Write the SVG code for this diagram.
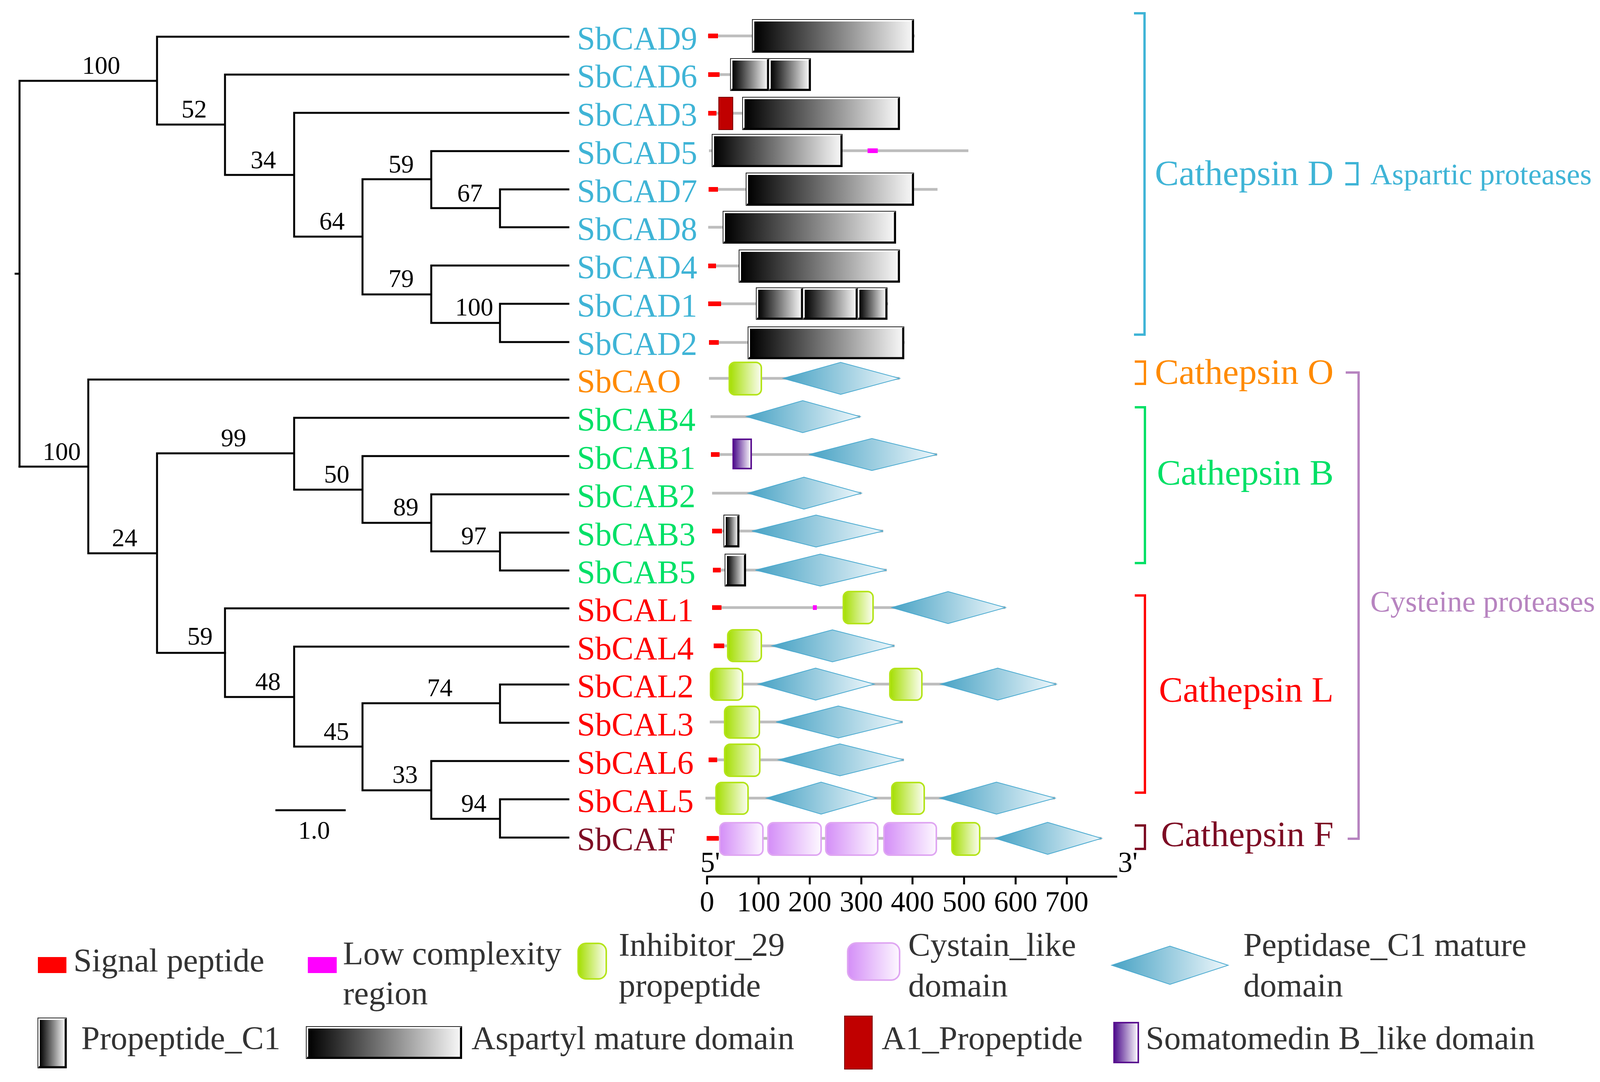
<svg xmlns="http://www.w3.org/2000/svg" width="4242" height="2771" viewBox="0 0 4242 2771">
<defs>
<linearGradient id="gBW" x1="0" y1="0" x2="1" y2="0"><stop offset="0" stop-color="#000"/><stop offset="1" stop-color="#f6f6f6"/></linearGradient>
<linearGradient id="gGr" x1="0" y1="0" x2="1" y2="0"><stop offset="0" stop-color="#a4de00"/><stop offset="1" stop-color="#fbfdf2"/></linearGradient>
<linearGradient id="gDi" x1="0" y1="0" x2="1" y2="0"><stop offset="0" stop-color="#47a2c4"/><stop offset="1" stop-color="#eef7fb"/></linearGradient>
<linearGradient id="gCy" x1="0" y1="0" x2="1" y2="0"><stop offset="0" stop-color="#d48ef7"/><stop offset="1" stop-color="#fdf8ff"/></linearGradient>
<linearGradient id="gPu" x1="0" y1="0" x2="1" y2="0"><stop offset="0" stop-color="#4a0a8a"/><stop offset="1" stop-color="#ffffff"/></linearGradient>
</defs>
<style>
text{font-family:"Liberation Serif","Times New Roman",serif}
.leaf{font-size:84px}
.bs{font-size:65px;fill:#000;text-anchor:middle}
.cd{fill:#3fb4d6}.co{fill:#ff8a00}.cb{fill:#00e066}.cl{fill:#ff0000}.cf{fill:#7d0c24}.cp{fill:#b784c0}
.grp{font-size:92px}
.sup{font-size:77px}
.br{fill:none;stroke-width:6}
.ln{stroke:#bdbdbd;stroke-width:7}
.sp{fill:#ff0000}
.lc{fill:#ff00ff}
.bo{fill:#fff;stroke:#222;stroke-width:2}
.bi{fill:url(#gBW)}
.bk{fill:none;stroke:#000;stroke-width:5}
.gr{fill:url(#gGr);stroke:#b4e41a;stroke-width:4}
.di{fill:url(#gDi);stroke:#4aaad0;stroke-width:2}
.cy{fill:url(#gCy);stroke:#dfa6f2;stroke-width:4}
.pu{fill:url(#gPu);stroke:#5a1090;stroke-width:4}
.a1{fill:#c00000;stroke:#7a0000;stroke-width:2}
.ax{font-size:74px;fill:#000}
.lg{font-size:85px;fill:#333}
</style>

<g id="connectors" fill="none" stroke="#000" stroke-width="5" stroke-linecap="square">
<path d="M40 701H50 M50 207V1195 M50 207H402 M402 94V319 M402 94H1455 M402 319H576 M576 191V448 M576 191H1455 M576 448H753 M753 289V606 M753 289H1455 M753 606H928 M928 459V754 M928 459H1104 M928 754H1104 M1104 387V533 M1104 387H1455 M1104 533H1280 M1280 485V582 M1280 485H1455 M1280 582H1455 M1104 680V827 M1104 680H1455 M1104 827H1280 M1280 778V876 M1280 778H1455 M1280 876H1455"/>
<path d="M50 1195H226 M226 972V1417 M226 972H1455 M226 1417H402 M402 1161V1672 M402 1161H753 M402 1672H576 M753 1070V1254 M753 1070H1455 M753 1254H928 M928 1168V1339 M928 1168H1455 M928 1339H1104 M1104 1266V1412 M1104 1266H1455 M1104 1412H1280 M1280 1364V1461 M1280 1364H1455 M1280 1461H1455"/>
<path d="M576 1558V1785 M576 1558H1455 M576 1785H753 M753 1656V1912 M753 1656H1455 M753 1912H928 M928 1801V2024 M928 1801H1280 M928 2024H1104 M1280 1753V1851 M1280 1753H1455 M1280 1851H1455 M1104 1949V2097 M1104 1949H1455 M1104 2097H1280 M1280 2047V2145 M1280 2047H1455 M1280 2145H1455"/>
</g>

<g id="bootstrap">
<text class="bs" x="259" y="189">100</text>
<text class="bs" x="497" y="301">52</text>
<text class="bs" x="674" y="431">34</text>
<text class="bs" x="1027" y="442">59</text>
<text class="bs" x="1203" y="516">67</text>
<text class="bs" x="850" y="588">64</text>
<text class="bs" x="1027" y="735">79</text>
<text class="bs" x="1214" y="808">100</text>
<text class="bs" x="158" y="1178">100</text>
<text class="bs" x="598" y="1143">99</text>
<text class="bs" x="319" y="1399">24</text>
<text class="bs" x="862" y="1236">50</text>
<text class="bs" x="1039" y="1320">89</text>
<text class="bs" x="1213" y="1394">97</text>
<text class="bs" x="512" y="1651">59</text>
<text class="bs" x="686" y="1767">48</text>
<text class="bs" x="1126" y="1783">74</text>
<text class="bs" x="861" y="1895">45</text>
<text class="bs" x="1037" y="2005">33</text>
<text class="bs" x="1213" y="2079">94</text>
</g>

<g id="scalebar">
<line x1="705" y1="2075" x2="885" y2="2075" stroke="#000" stroke-width="5"/>
<text class="bs" x="804" y="2148">1.0</text>
</g>

<g id="SbCAD9">
<text class="leaf cd" x="1477" y="127">SbCAD9</text>
<line class="ln" x1="1812" y1="92" x2="2342" y2="92"/>
<rect class="sp" x="1813" y="86" width="25" height="12"/>
<rect class="bo" x="1926" y="50" width="413" height="84"/><rect class="bi" x="1931" y="55" width="404" height="75"/><path class="bk" d="M2337 52V132H1928"/>
</g>
<g id="SbCAD6">
<text class="leaf cd" x="1477" y="224">SbCAD6</text>
<line class="ln" x1="1813" y1="191" x2="1870" y2="191"/>
<rect class="sp" x="1813" y="185" width="29" height="12"/>
<rect class="bo" x="1870" y="150" width="98" height="82"/><rect class="bi" x="1875" y="155" width="89" height="73"/><path class="bk" d="M1966 152V230H1872"/>
<rect class="bo" x="1968" y="150" width="107" height="82"/><rect class="bi" x="1973" y="155" width="98" height="73"/><path class="bk" d="M2073 152V230H1970"/>
</g>
<g id="SbCAD3">
<text class="leaf cd" x="1477" y="322">SbCAD3</text>
<line class="ln" x1="1813" y1="290" x2="1901" y2="290"/>
<rect class="sp" x="1813" y="284" width="21" height="12"/>
<rect class="a1" x="1840" y="249" width="36" height="83"/>
<rect class="bo" x="1901" y="249" width="402" height="83"/><rect class="bi" x="1906" y="254" width="393" height="74"/><path class="bk" d="M2301 251V330H1903"/>
</g>
<g id="SbCAD5">
<text class="leaf cd" x="1477" y="420">SbCAD5</text>
<line class="ln" x1="1815" y1="386" x2="2479" y2="386"/>
<rect class="bo" x="1823" y="344" width="333" height="83"/><rect class="bi" x="1828" y="349" width="324" height="74"/><path class="bk" d="M2154 346V425H1825"/>
<rect class="lc" x="2221" y="380" width="26" height="12"/>
</g>
<g id="SbCAD7">
<text class="leaf cd" x="1477" y="518">SbCAD7</text>
<line class="ln" x1="1814" y1="485" x2="2400" y2="485"/>
<rect class="sp" x="1814" y="479" width="24" height="12"/>
<rect class="bo" x="1910" y="443" width="429" height="83"/><rect class="bi" x="1915" y="448" width="420" height="74"/><path class="bk" d="M2337 445V524H1912"/>
</g>
<g id="SbCAD8">
<text class="leaf cd" x="1477" y="615">SbCAD8</text>
<line class="ln" x1="1813" y1="582" x2="1851" y2="582"/>
<rect class="bo" x="1851" y="541" width="442" height="82"/><rect class="bi" x="1856" y="546" width="433" height="73"/><path class="bk" d="M2291 543V621H1853"/>
</g>
<g id="SbCAD4">
<text class="leaf cd" x="1477" y="713">SbCAD4</text>
<line class="ln" x1="1813" y1="681" x2="1892" y2="681"/>
<rect class="sp" x="1813" y="675" width="20" height="12"/>
<rect class="bo" x="1892" y="640" width="411" height="83"/><rect class="bi" x="1897" y="645" width="402" height="74"/><path class="bk" d="M2301 642V721H1894"/>
</g>
<g id="SbCAD1">
<text class="leaf cd" x="1477" y="811">SbCAD1</text>
<line class="ln" x1="1813" y1="778" x2="2274" y2="778"/>
<rect class="sp" x="1813" y="772" width="33" height="12"/>
<rect class="bo" x="1936" y="737" width="119" height="81"/><rect class="bi" x="1941" y="742" width="110" height="72"/><path class="bk" d="M2053 739V816H1938"/>
<rect class="bo" x="2055" y="737" width="140" height="81"/><rect class="bi" x="2060" y="742" width="131" height="72"/><path class="bk" d="M2193 739V816H2057"/>
<rect class="bo" x="2195" y="737" width="76" height="81"/><rect class="bi" x="2200" y="742" width="67" height="72"/><path class="bk" d="M2269 739V816H2197"/>
</g>
<g id="SbCAD2">
<text class="leaf cd" x="1477" y="909">SbCAD2</text>
<line class="ln" x1="1815" y1="877" x2="2316" y2="877"/>
<rect class="sp" x="1815" y="871" width="25" height="12"/>
<rect class="bo" x="1915" y="837" width="399" height="82"/><rect class="bi" x="1920" y="842" width="390" height="73"/><path class="bk" d="M2312 839V917H1917"/>
</g>
<g id="SbCAO">
<text class="leaf co" x="1477" y="1005">SbCAO</text>
<line class="ln" x1="1815" y1="969" x2="2303" y2="969"/>
<rect class="gr" x="1867" y="928" width="82" height="83" rx="14"/>
<polygon class="di" points="2005,969 2152,928 2303,969 2152,1010"/>
</g>
<g id="SbCAB4">
<text class="leaf cb" x="1477" y="1103">SbCAB4</text>
<line class="ln" x1="1819" y1="1067" x2="2202" y2="1067"/>
<polygon class="di" points="1911,1067 2055,1026 2202,1067 2055,1108"/>
</g>
<g id="SbCAB1">
<text class="leaf cb" x="1477" y="1201">SbCAB1</text>
<line class="ln" x1="1820" y1="1164" x2="2399" y2="1164"/>
<rect class="sp" x="1820" y="1158" width="22" height="12"/>
<rect class="pu" x="1877" y="1125" width="46" height="75"/>
<polygon class="di" points="2071,1164 2232,1123 2399,1164 2232,1205"/>
</g>
<g id="SbCAB2">
<text class="leaf cb" x="1477" y="1299">SbCAB2</text>
<line class="ln" x1="1823" y1="1263" x2="2205" y2="1263"/>
<polygon class="di" points="1915,1263 2058,1222 2205,1263 2058,1304"/>
</g>
<g id="SbCAB3">
<text class="leaf cb" x="1477" y="1397">SbCAB3</text>
<line class="ln" x1="1848" y1="1360" x2="2261" y2="1360"/>
<rect class="sp" x="1823" y="1354" width="25" height="12"/>
<rect class="bo" x="1853" y="1319" width="39" height="82"/><rect class="bi" x="1858" y="1324" width="30" height="73"/><path class="bk" d="M1890 1321V1399H1855"/>
<polygon class="di" points="1925,1360 2089,1319 2261,1360 2089,1401"/>
</g>
<g id="SbCAB5">
<text class="leaf cb" x="1477" y="1494">SbCAB5</text>
<line class="ln" x1="1845" y1="1460" x2="2270" y2="1460"/>
<rect class="sp" x="1825" y="1454" width="20" height="12"/>
<rect class="bo" x="1856" y="1419" width="53" height="82"/><rect class="bi" x="1861" y="1424" width="44" height="73"/><path class="bk" d="M1907 1421V1499H1858"/>
<polygon class="di" points="1934,1460 2100,1419 2270,1460 2100,1501"/>
</g>
<g id="SbCAL1">
<text class="leaf cl" x="1477" y="1591">SbCAL1</text>
<line class="ln" x1="1847" y1="1556" x2="2574" y2="1556"/>
<rect class="sp" x="1823" y="1550" width="24" height="12"/>
<rect class="lc" x="2081" y="1550" width="10" height="12"/>
<rect class="gr" x="2159" y="1515" width="76" height="82" rx="14"/>
<polygon class="di" points="2283,1556 2427,1515 2574,1556 2427,1597"/>
</g>
<g id="SbCAL4">
<text class="leaf cl" x="1477" y="1689">SbCAL4</text>
<line class="ln" x1="1854" y1="1654" x2="2290" y2="1654"/>
<rect class="sp" x="1827" y="1648" width="27" height="12"/>
<rect class="gr" x="1863" y="1613" width="86" height="81" rx="14"/>
<polygon class="di" points="1976,1654 2131,1613 2290,1654 2131,1695"/>
</g>
<g id="SbCAL2">
<text class="leaf cl" x="1477" y="1786">SbCAL2</text>
<line class="ln" x1="1817" y1="1752" x2="2704" y2="1752"/>
<rect class="gr" x="1819" y="1712" width="82" height="81" rx="14"/>
<polygon class="di" points="1941,1752 2088,1711 2238,1752 2088,1793"/>
<rect class="gr" x="2278" y="1712" width="82" height="81" rx="14"/>
<polygon class="di" points="2408,1752 2554,1711 2704,1752 2554,1793"/>
</g>
<g id="SbCAL3">
<text class="leaf cl" x="1477" y="1884">SbCAL3</text>
<line class="ln" x1="1817" y1="1849" x2="2311" y2="1849"/>
<rect class="gr" x="1855" y="1809" width="89" height="81" rx="14"/>
<polygon class="di" points="1987,1849 2146,1808 2311,1849 2146,1890"/>
</g>
<g id="SbCAL6">
<text class="leaf cl" x="1477" y="1982">SbCAL6</text>
<line class="ln" x1="1836" y1="1946" x2="2314" y2="1946"/>
<rect class="sp" x="1814" y="1940" width="22" height="12"/>
<rect class="gr" x="1855" y="1906" width="90" height="82" rx="14"/>
<polygon class="di" points="1993,1946 2150,1905 2314,1946 2150,1987"/>
</g>
<g id="SbCAL5">
<text class="leaf cl" x="1477" y="2080">SbCAL5</text>
<line class="ln" x1="1806" y1="2044" x2="2701" y2="2044"/>
<rect class="gr" x="1833" y="2004" width="82" height="81" rx="14"/>
<polygon class="di" points="1962,2044 2102,2003 2244,2044 2102,2085"/>
<rect class="gr" x="2283" y="2004" width="83" height="81" rx="14"/>
<polygon class="di" points="2406,2044 2551,2003 2701,2044 2551,2085"/>
</g>
<g id="SbCAF">
<text class="leaf cf" x="1477" y="2178">SbCAF</text>
<line class="ln" x1="1840" y1="2147" x2="2820" y2="2147"/>
<rect class="sp" x="1809" y="2141" width="31" height="12"/>
<rect class="cy" x="1843" y="2107" width="110" height="83" rx="14"/>
<rect class="cy" x="1966" y="2107" width="136" height="83" rx="14"/>
<rect class="cy" x="2114" y="2107" width="133" height="83" rx="14"/>
<rect class="cy" x="2263" y="2107" width="134" height="83" rx="14"/>
<rect class="gr" x="2437" y="2107" width="71" height="83" rx="14"/>
<polygon class="di" points="2548,2147 2682,2106 2820,2147 2682,2188"/>
</g>

<g id="axis">
<line x1="1808" y1="2245" x2="2860" y2="2245" stroke="#000" stroke-width="5"/>
<path d="M1810 2245V2265 M1942 2245V2265 M2073 2245V2265 M2205 2245V2265 M2336 2245V2265 M2468 2245V2265 M2600 2245V2265 M2731 2245V2265" stroke="#000" stroke-width="5"/>
<text class="ax" x="1793" y="2233">5'</text>
<text class="ax" x="2862" y="2233">3'</text>
<g text-anchor="middle">
<text class="ax" x="1810" y="2334">0</text>
<text class="ax" x="1942" y="2334">100</text>
<text class="ax" x="2073" y="2334">200</text>
<text class="ax" x="2205" y="2334">300</text>
<text class="ax" x="2336" y="2334">400</text>
<text class="ax" x="2468" y="2334">500</text>
<text class="ax" x="2600" y="2334">600</text>
<text class="ax" x="2731" y="2334">700</text>
</g>
</g>

<g id="groups">
<polyline class="br" stroke="#3fb4d6" points="2903,34 2930,34 2930,857 2903,857"/>
<text class="grp cd" x="3414" y="474" text-anchor="end">Cathepsin D</text>
<polyline class="br" stroke="#3fb4d6" stroke-width="7" points="3444,418 3475,418 3475,472 3444,472"/>
<text class="sup cd" x="3508" y="472">Aspartic proteases</text>
<polyline class="br" stroke="#ff8a00" points="2905,926 2931,926 2931,983 2905,983"/>
<text class="grp co" x="3414" y="983" text-anchor="end">Cathepsin O</text>
<polyline class="br" stroke="#00e066" points="2905,1043 2931,1043 2931,1442 2905,1442"/>
<text class="grp cb" x="3414" y="1241" text-anchor="end">Cathepsin B</text>
<polyline class="br" stroke="#ff0000" points="2905,1525 2931,1525 2931,2030 2905,2030"/>
<text class="grp cl" x="3414" y="1797" text-anchor="end">Cathepsin L</text>
<polyline class="br" stroke="#7d0c24" points="2905,2114 2931,2114 2931,2174 2905,2174"/>
<text class="grp cf" x="3414" y="2167" text-anchor="end">Cathepsin F</text>
<polyline class="br" stroke="#b784c0" points="3445,954 3478,954 3478,2148 3450,2148"/>
<text class="sup cp" x="3508" y="1566">Cysteine proteases</text>
</g>

<g id="legend">
<rect class="sp" x="97" y="2451" width="73" height="41"/>
<text class="lg" x="188" y="2488">Signal peptide</text>
<rect class="lc" x="788" y="2451" width="74" height="41"/>
<text class="lg" x="878" y="2470">Low complexity</text>
<text class="lg" x="878" y="2572">region</text>
<rect class="gr" x="1480" y="2416" width="72" height="91" rx="20" stroke-width="7"/>
<text class="lg" x="1584" y="2448">Inhibitor_29</text>
<text class="lg" x="1584" y="2552">propeptide</text>
<rect class="cy" x="2170" y="2415" width="133" height="95" rx="22" stroke-width="6"/>
<text class="lg" x="2325" y="2448">Cystain_like</text>
<text class="lg" x="2325" y="2552">domain</text>
<polygon class="di" points="2846,2472 2995,2423 3144,2472 2995,2521" stroke="#2fa3c8" stroke-width="6"/>
<text class="lg" x="3183" y="2448">Peptidase_C1 mature</text>
<text class="lg" x="3183" y="2552">domain</text>
<rect class="bo" x="97" y="2607" width="73" height="128"/><rect class="bi" x="102" y="2612" width="64" height="119"/><path class="bk" d="M168 2609V2733H99"/>
<text class="lg" x="208" y="2687">Propeptide_C1</text>
<rect class="bo" x="784" y="2629" width="398" height="82"/><rect class="bi" x="789" y="2634" width="389" height="73"/><path class="bk" d="M1180 2631V2709H786"/>
<text class="lg" x="1207" y="2687">Aspartyl mature domain</text>
<rect class="a1" x="2162" y="2602" width="71" height="136"/>
<text class="lg" x="2257" y="2687">A1_Propeptide</text>
<rect class="pu" x="2852" y="2619" width="62" height="102"/>
<text class="lg" x="2933" y="2687">Somatomedin B_like domain</text>
</g>
</svg>
